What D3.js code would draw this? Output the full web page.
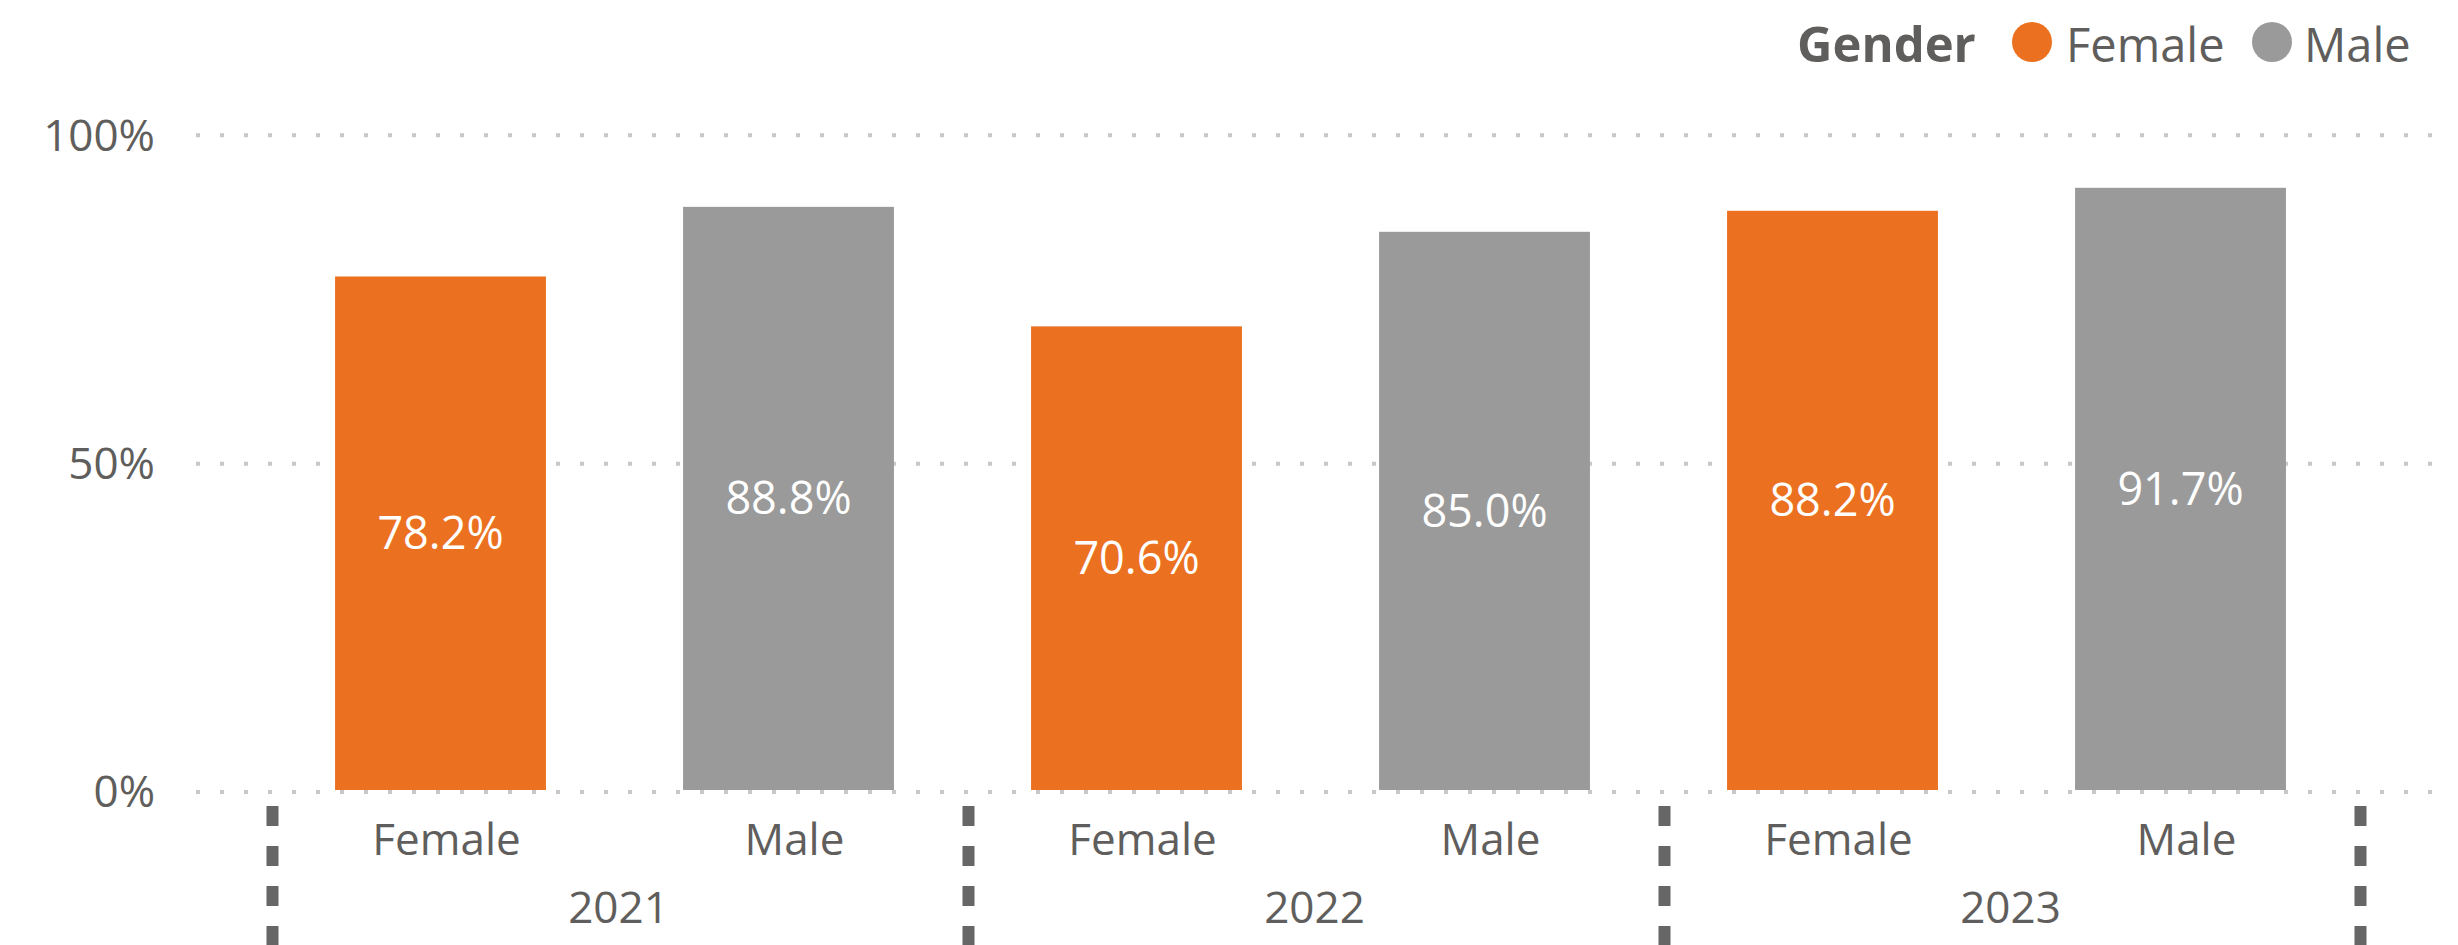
<!DOCTYPE html>
<html>
<head>
<meta charset="utf-8">
<script src="https://cdn.jsdelivr.net/npm/d3@7"></script>
<style>
  html, body { margin: 0; padding: 0; background: #fff; }
  svg { display: block; font-family: "Open Sans", "Noto Sans", sans-serif; }
</style>
</head>
<body>
<svg id="chart" width="2458" height="945"></svg>
<script>
const years = ["2021", "2022", "2023"];
const genders = ["Female", "Male"];
const femaleValues = [78.2, 70.6, 88.2];
const maleValues = [88.8, 85.0, 91.7];
const yTicks = [0, 50, 100];
const legendTitle = "Gender";

const colors = { Female: "#EB7121", Male: "#9A9A9A" };
const textColor = "#605E5C";

const rows = [];
years.forEach((yr, i) => {
  rows.push({ year: yr, gender: "Female", value: femaleValues[i], key: yr + "|Female" });
  rows.push({ year: yr, gender: "Male", value: maleValues[i], key: yr + "|Male" });
});

const svg = d3.select("#chart");
const left = 266.5, right = 2354.5;

const y = d3.scaleLinear().domain([0, 100]).range([790, 133.3]);
const x = d3.scaleBand().domain(rows.map(d => d.key)).range([left, right])
  .paddingInner(0.394).paddingOuter(0.197);
const xYear = d3.scaleBand().domain(years).range([left, right]).padding(0);

// gridlines
const grid = svg.append("g");
grid.selectAll("line").data(yTicks).join("line")
  .attr("x1", 196).attr("x2", 2436)
  .attr("y1", d => y(d) + 2).attr("y2", d => y(d) + 2)
  .attr("stroke", "#C8C8C8").attr("stroke-width", 4)
  .attr("stroke-dasharray", "4,20");

// y axis labels
const yAxis = d3.axisLeft(y).tickValues(yTicks).tickFormat(d => d + "%").tickSize(0).tickPadding(0);
const gy = svg.append("g").attr("transform", "translate(155,0)").call(yAxis);
gy.select(".domain").remove();
gy.selectAll("text")
  .attr("font-family", "'Open Sans', sans-serif")
  .attr("font-size", 44).attr("fill", textColor)
  .attr("dy", "0.35em").attr("y", 1.5);

// bars
svg.append("g").selectAll("rect").data(rows).join("rect")
  .attr("x", d => x(d.key)).attr("width", x.bandwidth())
  .attr("y", d => y(d.value)).attr("height", d => y(0) - y(d.value))
  .attr("fill", d => colors[d.gender]);

// data labels
svg.append("g").selectAll("text").data(rows).join("text")
  .attr("x", d => x(d.key) + x.bandwidth() / 2)
  .attr("y", d => (y(d.value) + y(0)) / 2)
  .attr("dy", "0.35em")
  .attr("text-anchor", "middle")
  .attr("font-size", 45).attr("fill", "#fff")
  .text(d => d.value.toFixed(1) + "%");

// category labels
svg.append("g").selectAll("text").data(rows).join("text")
  .attr("x", d => x(d.key) + x.bandwidth() / 2 + 6)
  .attr("y", 855)
  .attr("text-anchor", "middle")
  .attr("font-size", 44).attr("fill", textColor)
  .text(d => d.gender);

// year labels
svg.append("g").selectAll("text").data(years).join("text")
  .attr("x", d => xYear(d) + xYear.bandwidth() / 2 + 4)
  .attr("y", 923)
  .attr("text-anchor", "middle")
  .attr("font-size", 44).attr("fill", textColor)
  .text(d => d);

// separators
const bounds = years.map(d => xYear(d)).concat([xYear(years[years.length - 1]) + xYear.bandwidth()]);
svg.append("g").selectAll("line").data(bounds).join("line")
  .attr("x1", d => d + 6).attr("x2", d => d + 6)
  .attr("y1", 806).attr("y2", 945)
  .attr("stroke", "#666666").attr("stroke-width", 12)
  .attr("stroke-dasharray", "20,20");

// legend
const lg = svg.append("g");
lg.append("text").attr("x", 1797).attr("y", 62)
  .attr("font-size", 49).attr("font-weight", "bold").attr("fill", textColor)
  .text(legendTitle);
const legendItems = [
  { name: genders[0], cx: 2032, tx: 2066 },
  { name: genders[1], cx: 2272, tx: 2304 }
];
lg.selectAll("circle").data(legendItems).join("circle")
  .attr("cx", d => d.cx).attr("cy", 42).attr("r", 20)
  .attr("fill", d => colors[d.name]);
lg.selectAll("text.item").data(legendItems).join("text").attr("class", "item")
  .attr("x", d => d.tx).attr("y", 62)
  .attr("font-size", 47).attr("fill", textColor)
  .text(d => d.name);
</script>
</body>
</html>
